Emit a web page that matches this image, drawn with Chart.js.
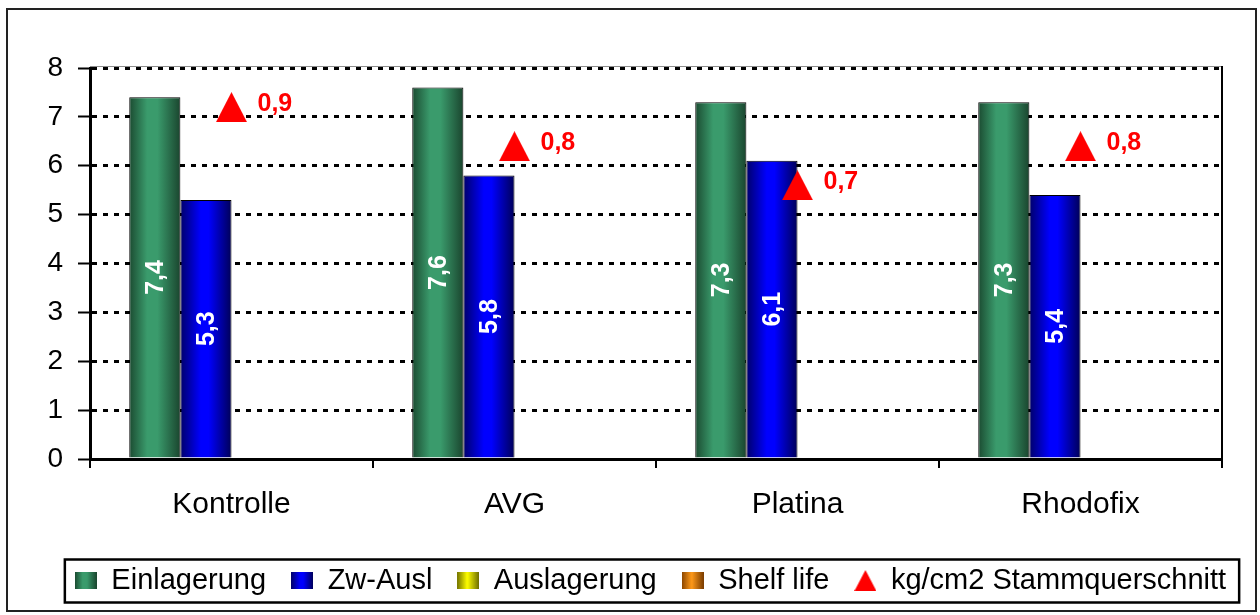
<!DOCTYPE html>
<html>
<head>
<meta charset="utf-8">
<script src="https://cdn.jsdelivr.net/npm/chart.js@4/dist/chart.umd.min.js"></script>
<style>
  html, body { margin: 0; padding: 0; background: #ffffff; }
  #wrap { width: 1260px; height: 615px; position: relative; }
</style>
</head>
<body>
<div id="wrap"><canvas id="c" width="1260" height="615"></canvas></div>
<script>
// Storage trial: values per variant
const categories = ['Kontrolle', 'AVG', 'Platina', 'Rhodofix'];
const einlagerung = [7.4, 7.6, 7.3, 7.3];
const zwAusl = [5.3, 5.8, 6.1, 5.4];
const auslagerung = [null, null, null, null];
const shelfLife = [null, null, null, null];
const stammquerschnitt = [0.9, 0.8, 0.7, 0.8];
const yTicks = [0, 1, 2, 3, 4, 5, 6, 7, 8];
const seriesNames = ['Einlagerung', 'Zw-Ausl', 'Auslagerung', 'Shelf life', 'kg/cm2 Stammquerschnitt'];

const FONT = '"Liberation Sans", Arial, Helvetica, sans-serif';

// Horizontal "cylinder" shading stops for the bar series
const shadeGreen  = [[0, '#1b4b31'], [0.35, '#3a9b6c'], [0.55, '#3a9b6c'], [1, '#1a452e']];
const shadeBlue   = [[0, '#00006a'], [0.4, '#0000ff'], [0.55, '#0000ff'], [1, '#000058']];
const shadeYellow = [[0, '#767600'], [0.45, '#ffff00'], [1, '#6a6a00']];
const shadeOrange = [[0, '#8a4500'], [0.45, '#ff9a1a'], [1, '#7a3c00']];

function legendSquare(stops) {
  const cv = document.createElement('canvas');
  cv.width = 22; cv.height = 17;
  const c = cv.getContext('2d');
  const g = c.createLinearGradient(0, 0, 22, 0);
  stops.forEach(([o, col]) => g.addColorStop(o, col));
  c.fillStyle = g;
  c.fillRect(0, 0, 22, 17);
  return cv;
}

function triangle(w, h) {
  const cv = document.createElement('canvas');
  cv.width = w; cv.height = h;
  const c = cv.getContext('2d');
  c.fillStyle = '#ff0000';
  c.beginPath();
  c.moveTo(0, h);
  c.lineTo(w / 2, 0);
  c.lineTo(w, h);
  c.closePath();
  c.fill();
  return cv;
}

const markerBig = triangle(31, 30);
const markerSmall = triangle(22, 21);

// Paint each bar with its own horizontal gradient
const barShading = {
  id: 'barShading',
  beforeDatasetsDraw(chart) {
    const c = chart.ctx;
    chart.data.datasets.forEach((ds, i) => {
      if (!ds.shade) return;
      chart.getDatasetMeta(i).data.forEach(el => {
        if (el.x == null || isNaN(el.y) || !el.width) return;
        const g = c.createLinearGradient(el.x - el.width / 2, 0, el.x + el.width / 2, 0);
        ds.shade.forEach(([o, col]) => g.addColorStop(o, col));
        el.options = Object.assign({}, el.options, { backgroundColor: g });
      });
    });
  }
};

// Value labels: rotated inside the bars, beside the triangle markers
const valueLabels = {
  id: 'valueLabels',
  afterDatasetsDraw(chart) {
    const c = chart.ctx;
    chart.data.datasets.forEach((ds, i) => {
      if (!ds.showValues) return;
      const meta = chart.getDatasetMeta(i);
      meta.data.forEach((el, j) => {
        const v = ds.data[j];
        if (v == null) return;
        const txt = v.toFixed(1).replace('.', ',');
        c.save();
        c.font = 'bold 25px ' + FONT;
        c.textBaseline = 'middle';
        if (meta.type === 'bar') {
          c.translate(el.x, (el.y + el.base) / 2);
          c.rotate(-Math.PI / 2);
          c.textAlign = 'center';
          c.fillStyle = '#ffffff';
          c.fillText(txt, 0, 1);
        } else {
          c.textAlign = 'left';
          c.fillStyle = '#ff0000';
          c.fillText(txt, el.x + 26, el.y - 3);
        }
        c.restore();
      });
    });
  }
};

// Outer frame, plot-area edges and the box round the legend
const frames = {
  id: 'frames',
  afterDraw(chart) {
    const c = chart.ctx;
    const a = chart.chartArea;
    c.save();
    c.strokeStyle = '#8c8c8c';
    c.lineWidth = 1;
    c.beginPath();
    c.moveTo(a.left, a.top - 1.5);
    c.lineTo(a.right, a.top - 1.5);
    c.stroke();
    c.strokeStyle = '#000000';
    c.lineWidth = 2;
    c.beginPath();
    c.moveTo(a.right, a.top - 2);
    c.lineTo(a.right, a.bottom);
    c.stroke();

    c.strokeStyle = '#222222';
    c.lineWidth = 2;
    c.strokeRect(7, 9, 1249, 602);

    const hb = chart.legend && chart.legend.legendHitBoxes;
    if (hb && hb.length) {
      const left = Math.min(...hb.map(h => h.left)) - 10;
      const right = Math.max(...hb.map(h => h.left + h.width)) + 13;
      const mid = hb[0].top + hb[0].height / 2;
      c.strokeStyle = '#000000';
      c.lineWidth = 2.5;
      c.strokeRect(left, mid - 21, right - left, 43);
    }
    c.restore();
  }
};

const chart = new Chart(document.getElementById('c'), {
  type: 'bar',
  data: {
    labels: categories,
    datasets: [
      { label: seriesNames[0], data: einlagerung, backgroundColor: '#2f7d56', shade: shadeGreen,
        pointStyle: legendSquare(shadeGreen), borderColor: '#000', borderWidth: 1, showValues: true, order: 2 },
      { label: seriesNames[1], data: zwAusl, backgroundColor: '#0000e0', shade: shadeBlue,
        pointStyle: legendSquare(shadeBlue), borderColor: '#000', borderWidth: 1, showValues: true, order: 2 },
      { label: seriesNames[2], data: auslagerung, backgroundColor: '#e0e000', shade: shadeYellow,
        pointStyle: legendSquare(shadeYellow), borderColor: '#000', borderWidth: 1, order: 2 },
      { label: seriesNames[3], data: shelfLife, backgroundColor: '#e08a10', shade: shadeOrange,
        pointStyle: legendSquare(shadeOrange), borderColor: '#000', borderWidth: 1, order: 2 },
      { type: 'line', label: seriesNames[4], data: stammquerschnitt, yAxisID: 'y2',
        showLine: false, pointStyle: markerBig, legendMarker: markerSmall,
        backgroundColor: '#ff0000', borderColor: '#ff0000', showValues: true, order: 1 }
    ]
  },
  options: {
    responsive: false,
    animation: false,
    devicePixelRatio: 1,
    layout: { padding: { left: 46, right: 5, top: 68, bottom: 10 } },
    datasets: { bar: { categoryPercentage: 0.7226, barPercentage: 1 } },
    scales: {
      x: {
        offset: true,
        grid: { offset: true, drawOnChartArea: false, drawTicks: true, tickLength: 9,
                color: '#000', lineWidth: 2 },
        border: { display: true, color: '#000', width: 3 },
        ticks: { color: '#000', font: { size: 30, family: FONT }, padding: 19 },
        afterFit: s => { s.height = 82; }
      },
      y: {
        min: 0, max: 8,
        afterBuildTicks: s => { s.ticks = yTicks.map(v => ({ value: v })); },
        grid: { color: '#000', lineWidth: 3, tickBorderDash: [],
                tickColor: '#000', tickWidth: 2, tickLength: 12 },
        border: { display: true, color: '#000', width: 3, dash: [5, 6] },
        ticks: { color: '#000', font: { size: 28, family: FONT }, padding: 15 },
        afterFit: s => { s.width = 44; }
      },
      y2: {
        position: 'right',
        min: 0, max: 1,
        grid: { display: false },
        border: { display: false },
        ticks: { display: false },
        afterFit: s => { s.width = 33; }
      }
    },
    plugins: {
      tooltip: { enabled: false },
      legend: {
        position: 'bottom',
        labels: {
          usePointStyle: true,
          boxWidth: 22,
          boxHeight: 17,
          padding: 25,
          color: '#000',
          font: { size: 29, family: FONT },
          sort: (a, b) => a.datasetIndex - b.datasetIndex,
          generateLabels(ch) {
            const items = Chart.defaults.plugins.legend.labels.generateLabels(ch);
            items.forEach(it => {
              const ds = ch.data.datasets[it.datasetIndex];
              if (ds.legendMarker) it.pointStyle = ds.legendMarker;
            });
            return items;
          }
        }
      }
    }
  },
  plugins: [barShading, valueLabels, frames]
});
</script>
</body>
</html>
